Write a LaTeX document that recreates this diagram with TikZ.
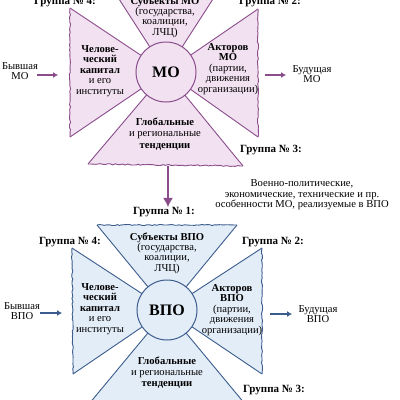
\documentclass[tikz,border=0pt]{standalone}
\usepackage{fontspec}
\setmainfont{Liberation Serif}
\usetikzlibrary{
	arrows.meta,
	decorations.pathmorphing
}
\definecolor{moFill}{HTML}{F1E1F1}
\definecolor{moEdge}{HTML}{8A4C8A}
\definecolor{vpoFill}{HTML}{E3EDF8}
\definecolor{vpoEdge}{HTML}{3B5C8C}
\tikzset{
	tekst/.style={
		align=center,
		inner sep=0pt,
		font=\fontsize{10.6}{10.4}\selectfont
	},
	gruppa/.style={
		tekst,
		font=\bfseries\fontsize{11}{10.4}\selectfont
	},
	krug/.style={
		circle,
		line width=1pt,
		minimum size=60pt,
		inner sep=0pt,
		font=\bfseries\fontsize{16}{16}\selectfont
	},
	kraj/.style={
		line width=0.9pt
	},
	rvanyj/.style={
		line width=0.9pt,
		decorate,
		decoration={random steps, segment length=2.5pt, amplitude=0.6pt}
	},
	strelka/.style={
		-{Latex[length=5pt,width=6pt]},
		line width=1.8pt
	},
	strelkaVniz/.style={
		-{Latex[length=9pt,width=10pt]},
		line width=1.3pt
	}
}
\pgfmathsetseed{7}

\begin{document}
\begin{tikzpicture}[x=1pt,y=-1pt]
		\clip (0,0) rectangle (400,400);
		\fill[white] (0,0) rectangle (400,400);
		% крест МО
		\coordinate (cMO) at (166,72);
		\foreach \ax/\ay/\bx/\by in {110/-15/222/-15, 258/9/258/137, 243/166/88/164, 70/137/70/8}{
			\fill[moFill] (cMO) -- (\ax,\ay) -- (\bx,\by) -- cycle;
			\draw[kraj, moEdge] (\bx,\by) -- (cMO) -- (\ax,\ay);
			\draw[rvanyj, moEdge] (\ax,\ay) -- (\bx,\by);
		}
		\node[krug, draw=moEdge, fill=moFill] (mo) at (cMO) {МО};
		\node[tekst] (moVerh) at (165,17) {\textbf{Субъекты МО}\\(государства,\\коалиции,\\ЛЧЦ)};
		\node[tekst] (moLevo) at (100,71) {\textbf{Челове-}\\\textbf{ческий}\\\textbf{капитал}\\и его\\институты};
		\node[tekst] (moPravo) at (228,69) {\textbf{Акторов}\\\textbf{МО}\\(партии,\\движения\\организации)};
		\node[tekst, font=\fontsize{10.6}{11.8}\selectfont] (moNiz) at (165,134) {\textbf{Глобальные}\\и региональные\\\textbf{тенденции}};
		\node[gruppa] (moGr4) at (65,2) {Группа № 4:};
		\node[gruppa] (moGr2) at (270,2) {Группа № 2:};
		\node[gruppa] (moGr3) at (271,150) {Группа № 3:};
		\node[tekst] (moBylo) at (20,71) {Бывшая\\МО};
		\node[tekst] (moBudet) at (312,74) {Будущая\\МО};
		\coordinate (moOt) at (37,75);
		\coordinate (moVhod) at (58,75);
		\coordinate (moVyhod) at (265,75);
		\coordinate (moK) at (286,75);
		\coordinate (moDno) at (168,166);
		\draw[strelka, moEdge] (moOt) -- (moVhod);
		\draw[strelka, moEdge] (moVyhod) -- (moK);
		% переход
		\node[tekst] (osobennosti) at (302,195) {Военно-политические,\\экономические, технические и пр.\\особенности МО, реализуемые в ВПО};
		% крест ВПО
		\coordinate (cVPO) at (167,310);
		\node[gruppa] (vpoGr1) at (164,212) {Группа № 1:};
		\draw[strelkaVniz, moEdge] (moDno) -- (vpoGr1.north -| moDno);
		\foreach \ax/\ay/\bx/\by in {97/225/237/225, 262/248/262/374, 250/410/84/410, 73/374/72/248}{
			\fill[vpoFill] (cVPO) -- (\ax,\ay) -- (\bx,\by) -- cycle;
			\draw[kraj, vpoEdge] (\bx,\by) -- (cVPO) -- (\ax,\ay);
			\draw[rvanyj, vpoEdge] (\ax,\ay) -- (\bx,\by);
		}
		\node[krug, draw=vpoEdge, fill=vpoFill] (vpo) at (cVPO) {ВПО};
		\node[tekst] (vpoVerh) at (167,253) {\textbf{Субъекты ВПО}\\(государства,\\коалиции,\\ЛЧЦ)};
		\node[tekst] (vpoLevo) at (100,309) {\textbf{Челове-}\\\textbf{ческий}\\\textbf{капитал}\\и его\\институты};
		\node[tekst] (vpoPravo) at (232,310) {\textbf{Акторов}\\\textbf{ВПО}\\(партии,\\движения\\организации)};
		\node[tekst, font=\fontsize{10.6}{11}\selectfont] (vpoNiz) at (167,373) {\textbf{Глобальные}\\и региональные\\\textbf{тенденции}};
		\node[gruppa] (vpoGr4) at (70,242) {Группа № 4:};
		\node[gruppa] (vpoGr2) at (273,242) {Группа № 2:};
		\node[gruppa] (vpoGr3) at (274,390) {Группа № 3:};
		\node[tekst] (vpoBylo) at (22,311) {Бывшая\\ВПО};
		\node[tekst] (vpoBudet) at (318,314) {Будущая\\ВПО};
		\coordinate (vpoOt) at (40,313);
		\coordinate (vpoVhod) at (62,313);
		\coordinate (vpoVyhod) at (270,314);
		\coordinate (vpoK) at (292,314);
		\draw[strelka, vpoEdge] (vpoOt) -- (vpoVhod);
		\draw[strelka, vpoEdge] (vpoVyhod) -- (vpoK);
	\end{tikzpicture}
\end{document}
